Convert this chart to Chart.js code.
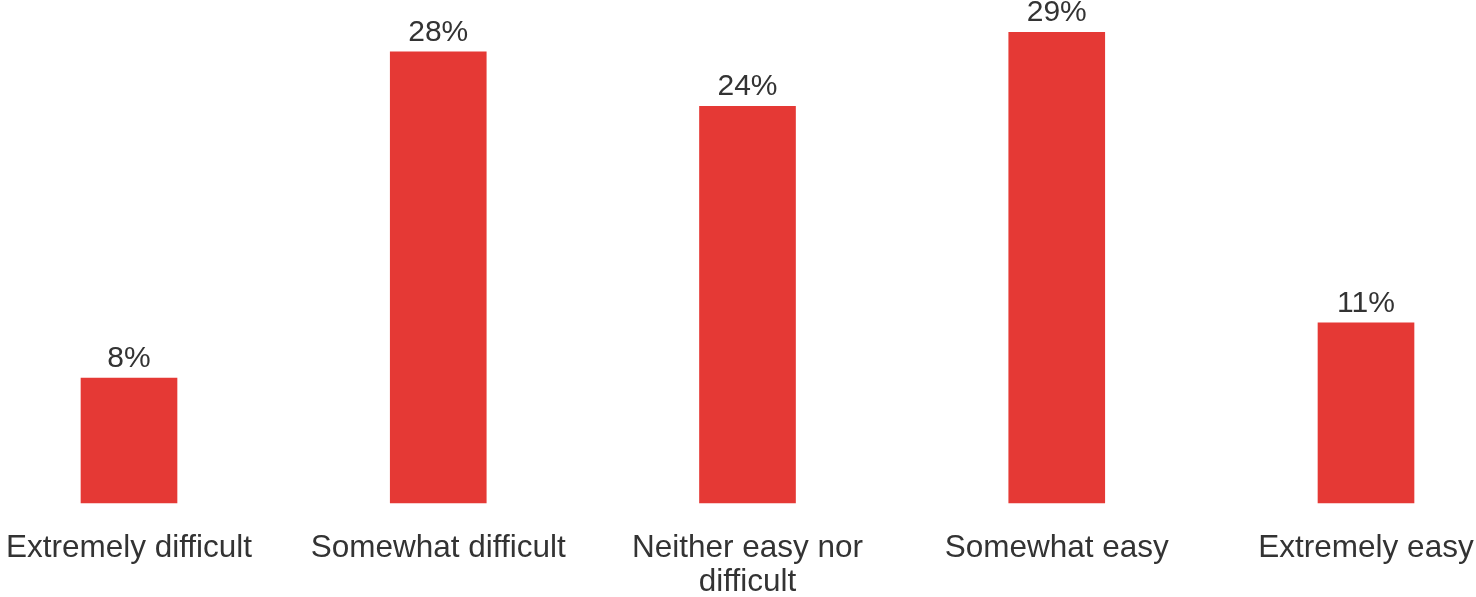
<!DOCTYPE html>
<html>
<head>
<meta charset="utf-8">
<script src="https://cdn.jsdelivr.net/npm/chart.js@4.4.0/dist/chart.umd.min.js"></script>
<style>
  html, body { margin: 0; padding: 0; background: #ffffff; }
  #wrap { width: 1476px; height: 597px; position: relative; }
</style>
</head>
<body>
<div id="wrap"><canvas id="c"></canvas></div>
<script>
const categories = [
  'Extremely difficult',
  'Somewhat difficult',
  ['Neither easy nor', 'difficult'],
  'Somewhat easy',
  'Extremely easy'
];
const values = [7.7, 27.8, 24.45, 29.0, 11.1];
const barColor = '#e53935';
const textColor = '#333333';

const valueLabels = {
  id: 'valueLabels',
  afterDatasetsDraw(chart) {
    const ctx = chart.ctx;
    const meta = chart.getDatasetMeta(0);
    ctx.save();
    ctx.font = '30px "Liberation Sans", Arial, sans-serif';
    ctx.fillStyle = textColor;
    ctx.textAlign = 'center';
    ctx.textBaseline = 'alphabetic';
    meta.data.forEach((bar, i) => {
      ctx.fillText(Math.round(values[i]) + '%', bar.x, bar.y - 11);
    });
    ctx.restore();
  }
};

new Chart(document.getElementById('c'), {
  type: 'bar',
  data: {
    labels: categories,
    datasets: [{
      data: values,
      backgroundColor: barColor,
      borderWidth: 0,
      barThickness: 96,
      clip: false
    }]
  },
  options: {
    responsive: true,
    maintainAspectRatio: false,
    animation: false,
    layout: { padding: { left: 129, right: 110, top: 0, bottom: 0 } },
    plugins: { legend: { display: false }, tooltip: { enabled: false } },
    scales: {
      x: {
        offset: false,
        grid: { display: false, drawTicks: false },
        border: { display: false },
        afterFit(scale) {
          scale.paddingLeft = 0;
          scale.paddingRight = 0;
          scale.height = 94;
        },
        ticks: {
          autoSkip: false,
          maxRotation: 0,
          minRotation: 0,
          padding: 28,
          color: textColor,
          font: { family: '"Liberation Sans", Arial, sans-serif', size: 31.5, lineHeight: 1.09 }
        }
      },
      y: {
        display: false,
        min: 0,
        max: 31
      }
    }
  },
  plugins: [valueLabels]
});
</script>
</body>
</html>
